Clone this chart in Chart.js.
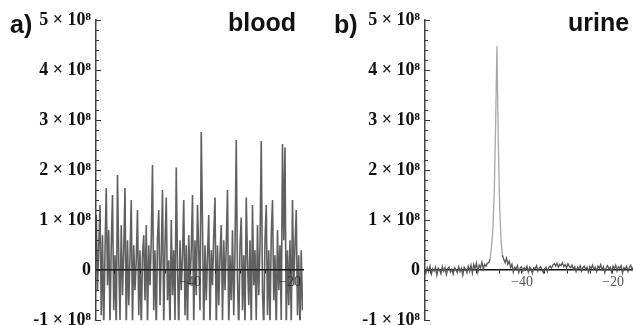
<!DOCTYPE html>
<html>
<head>
<meta charset="utf-8">
<script src="https://cdn.jsdelivr.net/npm/chart.js@4.4.1/dist/chart.umd.min.js"></script>
<style>
  body { margin: 0; background: #fff; }
  #wrap { position: relative; width: 633px; height: 325px; overflow: hidden; }
  .panel { position: absolute; top: 0; width: 315px; height: 336px; }
  .tag, .name {
    position: absolute;
    font-family: "Liberation Sans", Arial, sans-serif;
    font-weight: bold;
    font-size: 25px;
    color: #111;
    line-height: 1;
  }
</style>
</head>
<body>
<div id="wrap">
  <div class="panel" style="left:0"><canvas id="blood-chart"></canvas></div>
  <div class="panel" style="left:318px"><canvas id="urine-chart"></canvas></div>
  <div class="tag" style="left:10px;top:12px">a)</div>
  <div class="name" style="left:228px;top:10px">blood</div>
  <div class="tag" style="left:334px;top:12px">b)</div>
  <div class="name" style="left:568px;top:10px">urine</div>
</div>
<script>
// y values are in units of 10^8
const yTicks = [-1, 0, 1, 2, 3, 4, 5];
const xTickLabels = [-40, -20];

// blood trace, sampled every 0.25 starting at -59
const bloodStart = -59;
const bloodStep = 0.25;
const bloodValues = [
  0.6, 1.1, -0.4, 0.5, 1.3, -0.9, 0.7, -1.2, 0.4, 1.64,
  -0.3, 0.8, -1.1, 0.5, 1.5, -0.8, 0.3, -1.2, 1.9, 0.2,
  -1.0, 0.9, -0.5, 0.4, 1.64, -1.2, 0.6, -0.7, 0.3, 1.4,
  -1.1, 0.5, -0.4, 0.2, 1.2, -0.9, 0.4, -1.2, 0.3, 0.7,
  -0.6, 0.9, -1.1, 0.5, -0.3, 0.6, 2.1, -0.8, 0.4, -1.2,
  0.6, 1.2, -0.7, 0.3, 1.6, -1.1, 0.5, 1.45, -0.6, 0.2,
  -1.2, 1.0, -0.5, 0.4, -1.0, 2.05, 0.1, -1.2, 0.6, -0.4,
  0.3, 1.4, -0.9, 0.5, -1.2, 0.7, -0.3, 0.4, 1.5, -1.1,
  0.6, -0.5, 1.3, 0.4, -0.8, 2.76, 0.9, -1.2, 0.5, -0.6,
  0.3, 1.1, -1.1, 0.4, -0.3, 0.7, 1.45, -1.2, 0.5, -0.7,
  0.3, 0.9, -1.0, 0.6, -0.4, 0.5, 1.6, -1.2, 0.3, -0.6,
  0.8, -0.9, 0.4, 2.6, -0.2, -1.2, 0.5, 1.05, -0.8, 0.3,
  -1.1, 1.45, 0.2, -0.7, 0.6, -1.2, 1.3, -0.3, 0.4, -1.0,
  0.9, -0.5, 0.5, 2.58, -0.4, -1.2, 0.6, 1.3, -0.9, 0.4,
  -1.1, 0.7, 1.4, -0.6, 0.3, -1.2, 0.8, -0.4, 0.5, -1.0,
  2.52, 0.6, 2.45, -1.2, 0.4, -0.7, 0.6, -1.1, 1.4, -0.3,
  0.5, 1.2, -0.9, 0.3, -1.2, 0.4, -0.8,
];

// urine trace, sampled every 0.3 starting at -61.4
const urineStart = -61.4;
const urineStep = 0.3;
const urineValues = [
  0.02, -0.06, 0.05, -0.03, 0.08, -0.08, 0.03, -0.02, 0.06, -0.1,
  0.04, 0.01, -0.07, 0.07, -0.02, 0.05, -0.09, 0.03, 0.06, -0.04,
  0.02, -0.08, 0.05, 0.01, -0.05, 0.07, -0.03, 0.04, -0.1, 0.06,
  0.02, -0.05, 0.08, -0.02, 0.1, -0.06, 0.12, 0.03, 0.14, -0.04,
  0.1, 0.05, 0.16, 0.02, 0.12, 0.08, 0.14,
  0.15, 0.22, 0.45, 0.8, 1.5, 2.8, 4.48, 2.6, 1.3, 0.6,
  0.3, 0.22, 0.15, 0.24, 0.12, 0.18, 0.05,
  0.12, -0.04, 0.06, 0.02, 0.09, -0.05, 0.04, 0.07, -0.02, 0.05,
  0.01, 0.08, -0.04, 0.06, 0.02, -0.06, 0.05, 0.03, 0.09, -0.02,
  0.04, 0.07, 0.01, -0.05, 0.03, 0.06, -0.03, 0.05, 0.08, 0.04,
  0.1, 0.13, 0.08, 0.14, 0.06, 0.12, 0.09, 0.15, 0.07, 0.11,
  0.04, 0.13, 0.08, 0.05, 0.1, 0.02, 0.07, -0.03, 0.06, 0.03,
  0.09, -0.02, 0.05, 0.08, 0.01, 0.06, -0.04, 0.07, 0.03, 0.1,
  0.02, 0.06, -0.03, 0.08, 0.04, 0.11, 0.01, 0.07, -0.05, 0.05,
  0.09, 0.02, 0.06, -0.04, 0.08, 0.03, 0.1, -0.02, 0.07, 0.04,
  0.09, -0.06, 0.05, 0.02, 0.08, -0.03, 0.06, 0.1, 0.01, 0.07,
  -0.02, 0.05,
];

const toPoints = (start, step, values) =>
  values.map((v, i) => ({ x: start + i * step, y: v }));

const isMajor = (v) => Math.abs(v - Math.round(v)) < 1e-6;

const yLabel = (v) => {
  const n = Math.round(v);
  if (!yTicks.includes(n)) return "";
  if (n === 0) return "0";
  return n + " \u00d7 10\u2078";
};

const xLabel = (v) => {
  const n = Math.round(v);
  if (Math.abs(v - n) > 1e-6 || !xTickLabels.includes(n)) return "";
  return "\u2212" + Math.abs(n);
};

// tick marks pointing into the plot, like the original frame
const inwardTicks = {
  id: "inwardTicks",
  afterDraw(chart) {
    const scale = chart.scales.y;
    const ctx = chart.ctx;
    ctx.save();
    ctx.strokeStyle = "#333";
    ctx.lineWidth = 1;
    scale.ticks.forEach((t) => {
      const y = Math.round(scale.getPixelForValue(t.value)) + 0.5;
      const len = isMajor(t.value) ? 5 : 3;
      ctx.beginPath();
      ctx.moveTo(scale.right, y);
      ctx.lineTo(scale.right + len, y);
      ctx.stroke();
    });
    ctx.restore();
  },
};

const makeChart = (canvasId, points, xMin, xMax, axisWidth, padRight, lineStyle) => {
  const ctx = document.getElementById(canvasId).getContext("2d");
  return new Chart(ctx, {
    type: "line",
    data: {
      datasets: [
        Object.assign(
          {
            data: points,
            pointRadius: 0,
            tension: 0,
            fill: false,
          },
          lineStyle
        ),
      ],
    },
    options: {
      responsive: true,
      maintainAspectRatio: false,
      animation: false,
      events: [],
      layout: { padding: { top: 20, bottom: 6, left: 0, right: padRight } },
      plugins: { legend: { display: false }, tooltip: { enabled: false } },
      scales: {
        x: {
          type: "linear",
          min: xMin,
          max: xMax,
          position: { y: 0 },
          afterFit: (scale) => {
            scale.height = 0;
          },
          border: { display: true, color: "#111", width: 1.5 },
          grid: { drawOnChartArea: false, drawTicks: true, tickLength: 3, color: "#222" },
          ticks: {
            stepSize: 5,
            includeBounds: false,
            autoSkip: false,
            maxRotation: 0,
            padding: 1,
            color: "#555",
            font: { family: "'Liberation Serif', serif", size: 14 },
            callback: xLabel,
          },
        },
        y: {
          type: "linear",
          min: -1,
          max: 5,
          afterFit: (scale) => {
            scale.width = axisWidth;
          },
          border: { display: true, color: "#444", width: 1.5 },
          grid: { drawOnChartArea: false, drawTicks: false },
          ticks: {
            stepSize: 0.2,
            autoSkip: false,
            padding: 5,
            color: "#111",
            font: { family: "'Liberation Serif', serif", size: 18, weight: "bold" },
            callback: (v) => (isMajor(v) ? yLabel(v) : ""),
          },
        },
      },
    },
    plugins: [inwardTicks],
  });
};

makeChart("blood-chart", toPoints(bloodStart, bloodStep, bloodValues), -58.8, -17.4, 96, 12, {
  borderColor: "rgba(35, 35, 35, 0.72)",
  borderWidth: 1.6,
});

makeChart("urine-chart", toPoints(urineStart, urineStep, urineValues), -61.3, -15.6, 107, 0, {
  borderColor: "#666",
  borderWidth: 1.3,
  segment: {
    borderColor: (c) => (c.p0.parsed.y > 0.3 || c.p1.parsed.y > 0.3 ? "#a8a8a8" : "#555"),
  },
});
</script>
</body>
</html>
